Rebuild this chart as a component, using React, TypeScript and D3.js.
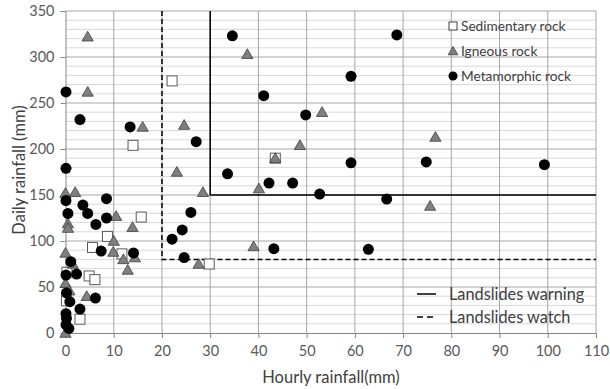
import { useEffect, useRef } from "react"
import * as d3 from "d3"

// hourly (mm), daily (mm)
const sedimentaryHourly = [0.3, 0.2, 3, 4.9, 6.1, 5.6, 8.7, 11.7, 14, 15.7, 22.1, 29.8, 43.5]
const sedimentaryDaily = [66, 35, 15, 62, 58, 93, 105, 86, 204, 126, 274, 75, 190]

const igneousHourly = [4.6, 4.6, 0, 2, 0.5, 0.5, 10.5, 13.9, 16, 0, 1.5, 0, 0.8, 4.4, 0, 10, 9.9, 12, 14.4, 12.9, 24.6, 23.1, 28.5, 27.6, 37.7, 43.5, 48.6, 53.2, 40.1, 39, 76.7, 75.6]
const igneousDaily = [322, 262, 152, 153, 119, 114, 127, 115, 224, 87, 75, 54, 46, 40, 0, 100, 88, 80, 82, 68.5, 226, 175, 153, 75, 303, 190, 204, 240, 157, 94, 213, 138]

const metamorphicHourly = [0.1, 3, 13.4, 0.1, 0.1, 8.5, 3.6, 0.5, 4.6, 8.5, 6.3, 7.4, 14.1, 1.1, 0.1, 2.3, 0.2, 6.2, 0.9, 3, 0.1, 0.2, 0.1, 0.7, 22.1, 24.2, 26, 27.1, 24.6, 34.6, 33.6, 41.1, 42.2, 43.2, 47.1, 49.8, 52.7, 59.2, 59.2, 62.8, 66.6, 68.7, 74.8, 99.3]
const metamorphicDaily = [262, 232, 224, 179, 144, 146, 139, 130, 130, 125, 118, 89, 87, 77.5, 63, 64, 43.5, 38, 34, 26, 21, 16, 9, 5, 102, 112, 131, 208, 82, 323, 173, 258, 163, 91.6, 163, 237, 151, 279, 185, 91, 145.6, 324, 186, 183]

// threshold polylines: [hourly, daily]
const warningHourly = [30, 30, 110]
const warningDaily = [350, 150, 150]
const watchHourly = [20, 20, 110]
const watchDaily = [350, 80, 80]

const seriesNames = ["Sedimentary rock", "Igneous rock", "Metamorphic rock"]
const lineNames = ["Landslides warning", "Landslides watch"]

const xTicks = d3.range(0, 111, 10)
const yTicks = d3.range(0, 351, 50)
const yMinor = d3.range(0, 351, 10)

export default function App() {
  const svgRef = useRef<SVGSVGElement>(null)

  useEffect(() => {
    const svg = d3.select(svgRef.current)
    svg.selectAll("*").remove()

    const W = 610, H = 389
    const left = 65.5, right = 596, top = 11, bottom = 333
    const font = "Lato, 'Open Sans', sans-serif"

    svg.attr("width", W).attr("height", H)

    const x = d3.scaleLinear().domain([0, 110]).range([left, right])
    const y = d3.scaleLinear().domain([0, 350]).range([bottom, top])

    // minor horizontal grid
    svg.append("g")
      .selectAll("line")
      .data(yMinor.filter(v => v % 50 !== 0))
      .enter()
      .append("line")
      .attr("x1", left).attr("x2", right)
      .attr("y1", d => y(d)).attr("y2", d => y(d))
      .attr("stroke", "#d9d9d9")
      .attr("stroke-width", 1)

    // major grid
    svg.append("g")
      .selectAll("line")
      .data(yTicks.filter(v => v > 0))
      .enter()
      .append("line")
      .attr("x1", left).attr("x2", right)
      .attr("y1", d => y(d)).attr("y2", d => y(d))
      .attr("stroke", "#a6a6a6")

    svg.append("g")
      .selectAll("line")
      .data(xTicks.filter(v => v > 0))
      .enter()
      .append("line")
      .attr("x1", d => x(d)).attr("x2", d => x(d))
      .attr("y1", top).attr("y2", bottom)
      .attr("stroke", "#a6a6a6")

    // axes
    const yAxis = svg.append("g")
      .attr("transform", `translate(${left},0)`)
      .call(d3.axisLeft(y).tickValues(yTicks).tickSize(5).tickPadding(6))
    const xAxis = svg.append("g")
      .attr("transform", `translate(0,${bottom})`)
      .call(d3.axisBottom(x).tickValues(xTicks).tickSize(5).tickPadding(8))
    for (const a of [yAxis, xAxis]) {
      a.select(".domain").attr("stroke", "#868686")
      a.selectAll(".tick line").attr("stroke", "#868686")
      a.selectAll(".tick text")
        .attr("fill", "#595959")
        .style("font-family", font)
        .style("font-size", "14.5px")
    }

    // axis titles
    svg.append("text")
      .attr("x", 331).attr("y", 383)
      .attr("text-anchor", "middle")
      .style("font-family", font).style("font-size", "16.5px")
      .attr("fill", "#404040")
      .text("Hourly rainfall(mm)")
    svg.append("text")
      .attr("transform", `translate(25,${170}) rotate(-90)`)
      .attr("text-anchor", "middle")
      .style("font-family", font).style("font-size", "16.5px")
      .attr("fill", "#404040")
      .text("Daily rainfall (mm)")

    // threshold lines
    const line = d3.line<[number, number]>().x(d => x(d[0])).y(d => y(d[1]))
    svg.append("path")
      .datum(watchHourly.map((h, i) => [h, watchDaily[i]] as [number, number]))
      .attr("d", line)
      .attr("fill", "none").attr("stroke", "#000").attr("stroke-width", 1.5)
      .attr("stroke-dasharray", "5,3")
    svg.append("path")
      .datum(warningHourly.map((h, i) => [h, warningDaily[i]] as [number, number]))
      .attr("d", line)
      .attr("fill", "none").attr("stroke", "#000").attr("stroke-width", 1.5)

    const tri = d3.symbol().type(d3.symbolTriangle).size(55)

    // markers
    svg.append("g")
      .selectAll("rect")
      .data(sedimentaryHourly.map((h, i) => [h, sedimentaryDaily[i]]))
      .enter()
      .append("rect")
      .attr("x", d => x(d[0]) - 5).attr("y", d => y(d[1]) - 5)
      .attr("width", 10).attr("height", 10)
      .attr("fill", "#fff").attr("stroke", "#595959").attr("stroke-width", 1)

    svg.append("g")
      .selectAll("path")
      .data(igneousHourly.map((h, i) => [h, igneousDaily[i]]))
      .enter()
      .append("path")
      .attr("d", tri)
      .attr("transform", d => `translate(${x(d[0])},${y(d[1]) + 1})`)
      .attr("fill", "#7f7f7f").attr("stroke", "#404040").attr("stroke-width", 0.8)

    svg.append("g")
      .selectAll("circle")
      .data(metamorphicHourly.map((h, i) => [h, metamorphicDaily[i]]))
      .enter()
      .append("circle")
      .attr("cx", d => x(d[0])).attr("cy", d => y(d[1]))
      .attr("r", 5.5)
      .attr("fill", "#000")

    // legend (rock types)
    const lg = svg.append("g").attr("transform", "translate(453,26)")
    seriesNames.forEach((name, i) => {
      const gy = i * 25
      if (i === 0) {
        lg.append("rect").attr("x", -4).attr("y", gy - 4).attr("width", 8).attr("height", 8)
          .attr("fill", "#fff").attr("stroke", "#404040")
      } else if (i === 1) {
        lg.append("path").attr("d", d3.symbol().type(d3.symbolTriangle).size(40)())
          .attr("transform", `translate(0,${gy + 1})`)
          .attr("fill", "#7f7f7f").attr("stroke", "#404040").attr("stroke-width", 0.8)
      } else {
        lg.append("circle").attr("cx", 0).attr("cy", gy).attr("r", 4.5).attr("fill", "#000")
      }
      lg.append("text")
        .attr("x", 8).attr("y", gy + 5)
        .style("font-family", font).style("font-size", "13.7px")
        .attr("fill", "#404040")
        .text(name)
    })

    // legend (thresholds)
    const lg2 = svg.append("g").attr("transform", "translate(417,294)")
    lineNames.forEach((name, i) => {
      const gy = i * 23
      lg2.append("line")
        .attr("x1", 0).attr("x2", 19).attr("y1", gy).attr("y2", gy)
        .attr("stroke", "#000").attr("stroke-width", 1.5)
        .attr("stroke-dasharray", i === 1 ? "6,4" : null)
      lg2.append("text")
        .attr("x", 32).attr("y", gy + 6)
        .style("font-family", font).style("font-size", "16.3px")
        .attr("fill", "#404040")
        .text(name)
    })
  }, [])

  return (
    <div style={{ position: "absolute", left: 0, top: 0, background: "#fff" }}>
      <svg ref={svgRef} style={{ display: "block" }}></svg>
    </div>
  )
}
